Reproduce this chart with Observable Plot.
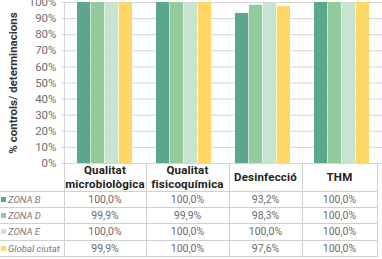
<!DOCTYPE html>
<html>
<head>
<meta charset="utf-8">
<script src="https://cdn.jsdelivr.net/npm/d3@7"></script>
<script src="https://cdn.jsdelivr.net/npm/@observablehq/plot@0.6"></script>
<style>
  html, body { margin: 0; padding: 0; background: #fff; }
  #wrap { position: relative; width: 382px; height: 259px; overflow: hidden; font-family: Roboto, "Noto Sans", sans-serif; }
  #wrap svg { position: absolute; left: 0; top: 0; overflow: visible; }
  .cell { position: absolute; display: flex; align-items: center; justify-content: center; text-align: center; box-sizing: border-box; white-space: nowrap; }
  .head { font-weight: bold; color: #222; font-size: 11.5px; line-height: 14px; letter-spacing: 0.2px; }
  .val { color: #6a6a6a; font-size: 10.5px; }
  .leg { justify-content: flex-start; color: #7a7a7a; font-size: 9.5px; font-style: italic; }
  .sw { display: inline-block; width: 5px; height: 5px; margin: 0 2px 0 1px; }
  .line { position: absolute; background: #d0d0d0; }
</style>
</head>
<body>
<div id="wrap"></div>
<script>
// ---- data ----
const categories = ["Qualitat microbiològica", "Qualitat fisicoquímica", "Desinfecció", "THM"];
const headerLines = [["Qualitat", "microbiològica"], ["Qualitat", "fisicoquímica"], ["Desinfecció"], ["THM"]];
const series = ["ZONA B", "ZONA D", "ZONA E", "Global ciutat"];
const zonaB = [100.0, 100.0, 93.2, 100.0];
const zonaD = [99.9, 99.9, 98.3, 100.0];
const zonaE = [100.0, 100.0, 100.0, 100.0];
const globalCiutat = [99.9, 100.0, 97.6, 100.0];
const colors = ["#5aa78c", "#93cb9c", "#c7e4d0", "#fed766"];
const yTicks = [0, 10, 20, 30, 40, 50, 60, 70, 80, 90, 100];
const yTitle = "% controls/ determinacions";

// ---- build ----
const values = [zonaB, zonaD, zonaE, globalCiutat];
const fmt = v => v.toFixed(1).replace(".", ",") + "%";

const W = 382, H = 170, mL = 64, mR = 0, mT = 2, mB = 7;
const xOpts = {type: "band", domain: categories, paddingInner: 0.3, paddingOuter: 0.15};
const xs = Plot.scale({x: {...xOpts, range: [mL, W - mR]}});
const bw = xs.bandwidth;
const n = series.length;

const barMarks = series.map((s, j) => {
  const data = categories.map((c, i) => ({category: c, series: s, value: values[j][i]}));
  return Plot.barY(data, {
    x: "category", y: "value", fill: "series",
    insetLeft: j * bw / n, insetRight: (n - 1 - j) * bw / n
  });
});

const chart = Plot.plot({
  width: W, height: H, marginTop: mT, marginBottom: mB, marginLeft: mL, marginRight: mR,
  style: {fontFamily: "Roboto, 'Noto Sans', sans-serif", fontSize: "11.5px", overflow: "visible", background: "transparent"},
  x: {...xOpts, axis: null, label: null},
  y: {domain: [0, 100], label: null},
  color: {domain: series, range: colors},
  marks: [
    Plot.gridY(yTicks, {stroke: "#d6d6d6", strokeOpacity: 1}),
    ...barMarks,
    Plot.frame({anchor: "left", stroke: "#d6d6d6"}),
    Plot.axisY({ticks: yTicks, tickFormat: d => d + "%", tickSize: 3, tickPadding: 5, stroke: "#d6d6d6", fill: "#707070", label: null}),
    Plot.text([yTitle], {text: d => d, frameAnchor: "left", textAnchor: "middle", rotate: -90, dx: -51, fontWeight: "bold", fill: "#333", fontSize: 11.5})
  ]
});

const wrap = d3.select("#wrap");
wrap.node().appendChild(chart);

// ---- data table below the chart ----
const colX = [0, 64, 146, 229, 302, 377];
const headTop = 163, headH = 28, rowH = 16.4;
const bodyTop = headTop + headH;
const bottom = bodyTop + rowH * series.length;

headerLines.forEach((lines, i) => {
  const cell = wrap.append("div").attr("class", "cell head")
    .style("left", colX[i + 1] + "px").style("top", headTop + "px")
    .style("width", (colX[i + 2] - colX[i + 1]) + "px").style("height", headH + "px");
  const inner = cell.append("div");
  lines.forEach((t, k) => { if (k) inner.append("br"); inner.append("span").text(t); });
});

series.forEach((s, j) => {
  const top = bodyTop + rowH * j;
  const leg = wrap.append("div").attr("class", "cell leg")
    .style("left", "0px").style("top", top + "px")
    .style("width", colX[1] + "px").style("height", rowH + "px");
  leg.append("span").attr("class", "sw").style("background", colors[j]);
  leg.append("span").text(s);
  categories.forEach((c, i) => {
    wrap.append("div").attr("class", "cell val")
      .style("left", colX[i + 1] + "px").style("top", top + "px")
      .style("width", (colX[i + 2] - colX[i + 1]) + "px").style("height", rowH + "px")
      .text(fmt(values[j][i]));
  });
});

for (let j = 0; j <= series.length; j++) {
  const y = bodyTop + rowH * j;
  wrap.append("div").attr("class", "line")
    .style("left", "0px").style("top", (y - 0.5) + "px").style("width", colX[5] + "px").style("height", "1px");
}
colX.slice(1).forEach(x => {
  wrap.append("div").attr("class", "line")
    .style("left", (x - 0.5) + "px").style("top", headTop + "px").style("width", "1px").style("height", (bottom - headTop) + "px");
});
</script>
</body>
</html>
